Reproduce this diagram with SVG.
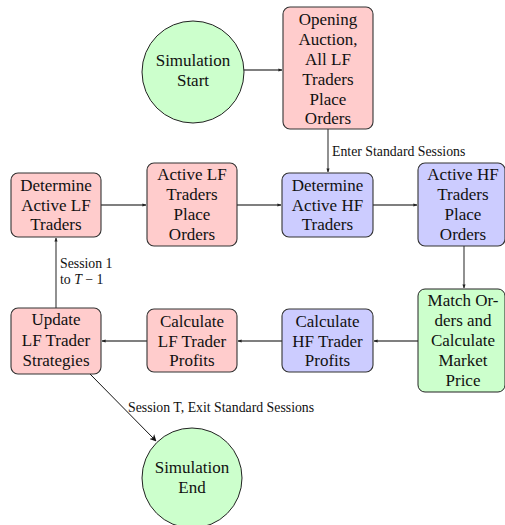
<svg xmlns="http://www.w3.org/2000/svg" width="505" height="525" viewBox="0 0 505 525">
<defs>
<style>
.red{fill:#ffcccc;stroke:#333;stroke-width:1.1}
.blue{fill:#ccccff;stroke:#333;stroke-width:1.1}
.green{fill:#ccffcc;stroke:#222;stroke-width:1}
.t{font-family:"Liberation Serif",serif;font-size:17px;fill:#111;text-anchor:middle}
.s{font-family:"Liberation Serif",serif;font-size:13.8px;fill:#111}
.c{fill:none;stroke:#555;stroke-width:1.3}
.d{fill:none;stroke:#111;stroke-width:1}
</style>
<marker id="ah" viewBox="0 0 10 10" refX="9" refY="5" markerWidth="4" markerHeight="4" orient="auto-start-reverse" markerUnits="userSpaceOnUse">
<path d="M0,1 L10,5 L0,9 Z" fill="#222"/>
</marker>
<marker id="ah2" viewBox="0 0 10 10" refX="9" refY="5" markerWidth="7" markerHeight="7" orient="auto" markerUnits="userSpaceOnUse">
<path d="M0,0 L10,5 L0,10 L3,5 Z" fill="#111"/>
</marker>
</defs>
<rect width="505" height="525" fill="#fff"/>
<g id="connectors">
<line class="c" x1="243" y1="70" x2="282" y2="70" marker-end="url(#ah)"/>
<line class="c" x1="328" y1="129" x2="328" y2="172" marker-end="url(#ah)"/>
<line class="c" x1="101" y1="205" x2="146" y2="205" marker-end="url(#ah)"/>
<line class="c" x1="237" y1="205" x2="281" y2="205" marker-end="url(#ah)"/>
<line class="c" x1="373" y1="205" x2="417" y2="205" marker-end="url(#ah)"/>
<line class="c" x1="464" y1="246" x2="464" y2="288" marker-end="url(#ah)"/>
<line class="c" x1="418" y1="341" x2="374" y2="341" marker-end="url(#ah)"/>
<line class="c" x1="282" y1="341" x2="238" y2="341" marker-end="url(#ah)"/>
<line class="c" x1="147" y1="341" x2="102" y2="341" marker-end="url(#ah)"/>
<line class="c" x1="56" y1="308" x2="56" y2="238" marker-end="url(#ah)"/>
<line class="d" x1="90" y1="374" x2="156" y2="441" marker-end="url(#ah2)"/>
<text class="s" x="332" y="156">Enter Standard Sessions</text>
<text class="s" x="60" y="268">Session 1</text>
<text class="s" x="60" y="284">to <tspan font-style="italic">T</tspan> − 1</text>
<text class="s" x="128" y="412">Session T, Exit Standard Sessions</text>
</g>
<g id="start">
<circle class="green" cx="193" cy="72" r="51"/>
<text class="t" x="193" y="66">Simulation</text>
<text class="t" x="193" y="86">Start</text>
</g>
<g id="opening">
<rect class="red" x="283" y="7" width="90" height="122" rx="7"/>
<text class="t" x="328" y="25">Opening</text>
<text class="t" x="328" y="45">Auction,</text>
<text class="t" x="328" y="65">All LF</text>
<text class="t" x="328" y="85">Traders</text>
<text class="t" x="328" y="105">Place</text>
<text class="t" x="328" y="124">Orders</text>
</g>
<g id="detLF">
<rect class="red" x="11" y="173" width="90" height="64" rx="7"/>
<text class="t" x="56" y="191">Determine</text>
<text class="t" x="56" y="211">Active LF</text>
<text class="t" x="56" y="230">Traders</text>
</g>
<g id="lfPlace">
<rect class="red" x="147" y="163" width="90" height="83" rx="7"/>
<text class="t" x="192" y="180">Active LF</text>
<text class="t" x="192" y="200">Traders</text>
<text class="t" x="192" y="220">Place</text>
<text class="t" x="192" y="240">Orders</text>
</g>
<g id="detHF">
<rect class="blue" x="282" y="173" width="91" height="64" rx="7"/>
<text class="t" x="327.5" y="191">Determine</text>
<text class="t" x="327.5" y="211">Active HF</text>
<text class="t" x="327.5" y="230">Traders</text>
</g>
<g id="hfPlace">
<rect class="blue" x="418" y="163" width="87" height="83" rx="7"/>
<text class="t" x="463" y="180">Active HF</text>
<text class="t" x="463" y="200">Traders</text>
<text class="t" x="463" y="220">Place</text>
<text class="t" x="463" y="240">Orders</text>
</g>
<g id="match">
<rect class="green" x="418" y="289" width="87" height="103" rx="7"/>
<text class="t" x="463" y="306">Match Or-</text>
<text class="t" x="463" y="326">ders and</text>
<text class="t" x="463" y="346">Calculate</text>
<text class="t" x="463" y="366">Market</text>
<text class="t" x="463" y="386">Price</text>
</g>
<g id="hfProfit">
<rect class="blue" x="282" y="309" width="91" height="63" rx="7"/>
<text class="t" x="327.5" y="327">Calculate</text>
<text class="t" x="327.5" y="347">HF Trader</text>
<text class="t" x="327.5" y="366">Profits</text>
</g>
<g id="lfProfit">
<rect class="red" x="147" y="309" width="90" height="63" rx="7"/>
<text class="t" x="192" y="327">Calculate</text>
<text class="t" x="192" y="347">LF Trader</text>
<text class="t" x="192" y="366">Profits</text>
</g>
<g id="update">
<rect class="red" x="11" y="308" width="90" height="66" rx="7"/>
<text class="t" x="56" y="325">Update</text>
<text class="t" x="56" y="346">LF Trader</text>
<text class="t" x="56" y="366">Strategies</text>
</g>
<g id="end">
<circle class="green" cx="192" cy="478" r="50"/>
<text class="t" x="192" y="473">Simulation</text>
<text class="t" x="192" y="493">End</text>
</g>
</svg>
